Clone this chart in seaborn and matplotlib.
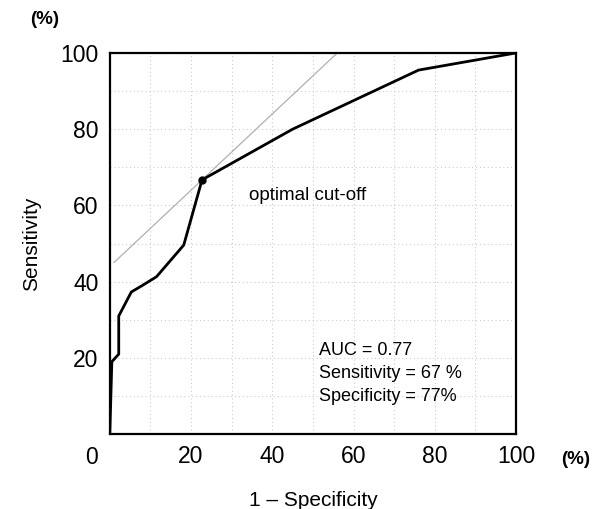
import numpy as np
import pandas as pd
import matplotlib
matplotlib.use("Agg")
import matplotlib.pyplot as plt
import seaborn as sns

# ROC curve (1 - specificity, sensitivity), in %
fpr = [0, 0.5, 2.2, 2.2, 5.3, 8, 11.5, 18.2, 22.7, 45, 76, 100]
tpr = [0, 19, 21, 31, 37.3, 39, 41.3, 49.6, 66.7, 80, 95.5, 100]

# grey tangent line through the optimal cut-off
tan_x = [1, 56]
tan_y = [45, 100]

cutoff = (22.7, 66.7)
ticks = [20, 40, 60, 80, 100]
stats_lines = ["AUC = 0.77", "Sensitivity = 67 %", "Specificity = 77%"]

sns.set_theme(style="white")
plt.rcParams["font.family"] = ["Liberation Sans", "DejaVu Sans"]
plt.rcParams["text.color"] = "black"
plt.rcParams["axes.labelcolor"] = "black"
plt.rcParams["xtick.color"] = "black"
plt.rcParams["ytick.color"] = "black"

fig = plt.figure(figsize=(6.1, 5.09), dpi=100)
ax = fig.add_axes([0.180, 0.147, 0.666, 0.749])

roc = pd.DataFrame({"fpr": fpr, "tpr": tpr})
tan = pd.DataFrame({"x": tan_x, "y": tan_y})

sns.lineplot(data=tan, x="x", y="y", ax=ax, color="#b0b0b0", lw=0.9,
             sort=False, estimator=None)
sns.lineplot(data=roc, x="fpr", y="tpr", ax=ax, color="black", lw=2.0,
             sort=False, estimator=None)
ax.plot([cutoff[0]], [cutoff[1]], "o", color="black", ms=5)

ax.set_xlim(0, 100)
ax.set_ylim(0, 100)
ax.set_xticks(ticks)
ax.set_yticks(ticks)
ax.set_xticklabels([str(t) for t in ticks], fontsize=16.5)
ax.set_yticklabels([str(t) for t in ticks], fontsize=16.5)
ax.tick_params(length=0, pad=8)

ax.set_xticks(np.arange(10, 100, 10), minor=True)
ax.set_yticks(np.arange(10, 100, 10), minor=True)
ax.grid(True, which="both", color="#cccccc", ls=(0, (1, 2.5)), lw=0.8)

for sp in ax.spines.values():
    sp.set_color("black")
    sp.set_linewidth(1.6)

ax.set_xlabel("1 \u2013 Specificity", fontsize=15, labelpad=16)
ax.set_ylabel("Sensitivity", fontsize=15, labelpad=14)

ax.text(-4.5, -3.0, "0", fontsize=16.5, ha="center", va="top")
ax.text(-16, 106.5, "(%)", fontsize=13.5, fontweight="bold", ha="center", va="bottom")
ax.text(111, -4.5, "(%)", fontsize=13.5, fontweight="bold", ha="left", va="top")

ax.text(34.2, 62.7, "optimal cut-off", fontsize=13.5, ha="left", va="center")
for i, line in enumerate(stats_lines):
    ax.text(51.5, 22 - i * 6.0, line, fontsize=13, ha="left", va="center")

fig.savefig("out.png", dpi=100)
